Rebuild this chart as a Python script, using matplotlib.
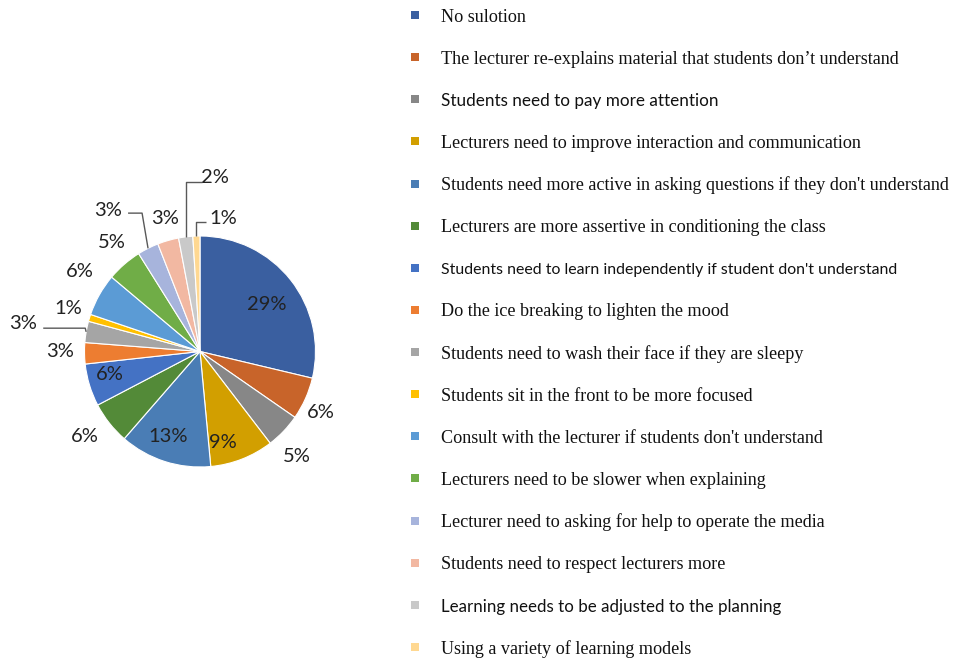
import numpy as np
import matplotlib
matplotlib.use("Agg")
import matplotlib.pyplot as plt
from matplotlib.patches import Rectangle

# ---- data -------------------------------------------------------------
categories = [
    "No sulotion",
    "The lecturer re-explains material that students don\u2019t understand",
    "Students need to pay more attention",
    "Lecturers need to improve interaction and communication",
    "Students need more active in asking questions if they don't understand",
    "Lecturers are more assertive in conditioning the class",
    "Students need to learn independently if student don't understand",
    "Do the ice breaking to lighten the mood",
    "Students need to wash their face if they are sleepy",
    "Students sit in the front to be more focused",
    "Consult with the lecturer if students don't understand",
    "Lecturers need to be slower when explaining",
    "Lecturer need to asking for help to operate the media",
    "Students need to respect lecturers more",
    "Learning needs to be adjusted to the planning",
    "Using a variety of learning models",
]
percentages = [29, 6, 5, 9, 13, 6, 6, 3, 3, 1, 6, 5, 3, 3, 2, 1]

# ---- styling ----------------------------------------------------------
colors = [
    "#3A5FA0", "#C8642A", "#878787", "#D29F00", "#4A7DB5", "#538A38",
    "#4472C4", "#ED7D31", "#A5A5A5", "#FFC000", "#5B9BD5", "#70AD47",
    "#A7B4DC", "#F2B8A2", "#C9C9C9", "#FFD891",
]
# legend entries typeset in a sans face (the rest are serif), with their sizes
sans_entries = {2: 12.3, 6: 11.4, 14: 12.2}

# label placement: radial distance (in radii) and angular nudge (deg)
label_dist = [0.706, 1.175, 1.24, 0.81, 0.79, 1.24, 0.805, 1.21,
              1.55, 1.20, 1.25, 1.21, 1.46, 1.195, 1.516, 1.173]
label_shift = [-3.5, -2.8, -3.7, -7.1, -2.7, -1.7, -2.3, -0.7,
               0.7, -1.3, -4.1, -2.0, 6.3, -1.3, -12.0, -11.6]
# leader lines: index -> (attach dx px, attach dy px, elbow dx px or None=vertical to wedge)
leaders = {
    8: (20, 5, 42),
    12: (20, 3, 14),
    14: (-13, 5, None),
    15: (-17, 4, None),
}

W, H, DPI = 958, 659, 100
CX, CY, R = 200.0, 351.5, 115.5   # pie centre and radius in pixels

fig = plt.figure(figsize=(W / DPI, H / DPI), dpi=DPI)
ax = fig.add_axes([0, 0, 1, 1])

wedges, _ = ax.pie(
    percentages, colors=colors, startangle=90, counterclock=False,
    radius=1, center=(0, 0),
    wedgeprops=dict(edgecolor="white", linewidth=0.8),
)
ax.set_xlim(-CX / R, (W - CX) / R)
ax.set_ylim(-(H - CY) / R, CY / R)
ax.set_aspect("equal")
ax.axis("off")

pct_font = dict(family=["Lato", "DejaVu Sans"], fontsize=14.5, color="#222222")

for i, (w, p) in enumerate(zip(wedges, percentages)):
    mid = 0.5 * (w.theta1 + w.theta2)
    ang = np.deg2rad(mid + label_shift[i])
    lx, ly = label_dist[i] * np.cos(ang), label_dist[i] * np.sin(ang)
    ax.text(lx, ly, f"{p}%", ha="center", va="center", **pct_font)
    if i in leaders:
        adx, ady, edx = leaders[i]
        ex, ey = np.cos(np.deg2rad(mid)), np.sin(np.deg2rad(mid))
        ax_, ay_ = lx + adx / R, ly - ady / R
        bx = ex if edx is None else ax_ + np.sign(adx) * edx / R
        ax.plot([ax_, bx, ex], [ay_, ay_, ey], color="#595959",
                lw=1.0, solid_capstyle="butt", zorder=3)

# ---- legend -----------------------------------------------------------
top_y, step = 15.0, 42.13
for i, (cat, col) in enumerate(zip(categories, colors)):
    yc = top_y + i * step
    sq = 8
    fig.add_artist(Rectangle(((415 - sq / 2) / W, 1 - (yc + sq / 2) / H),
                             sq / W, sq / H, transform=fig.transFigure,
                             facecolor=col, edgecolor="none"))
    if i in sans_entries:
        fam, fs = ["Lato", "DejaVu Sans"], sans_entries[i]
    else:
        fam, fs = ["Liberation Serif", "DejaVu Serif"], 13.1
    fig.text(441 / W, 1 - (yc + 2) / H, cat, ha="left", va="center",
             family=fam, fontsize=fs, color="#111111")

fig.savefig("out.png", dpi=DPI)
